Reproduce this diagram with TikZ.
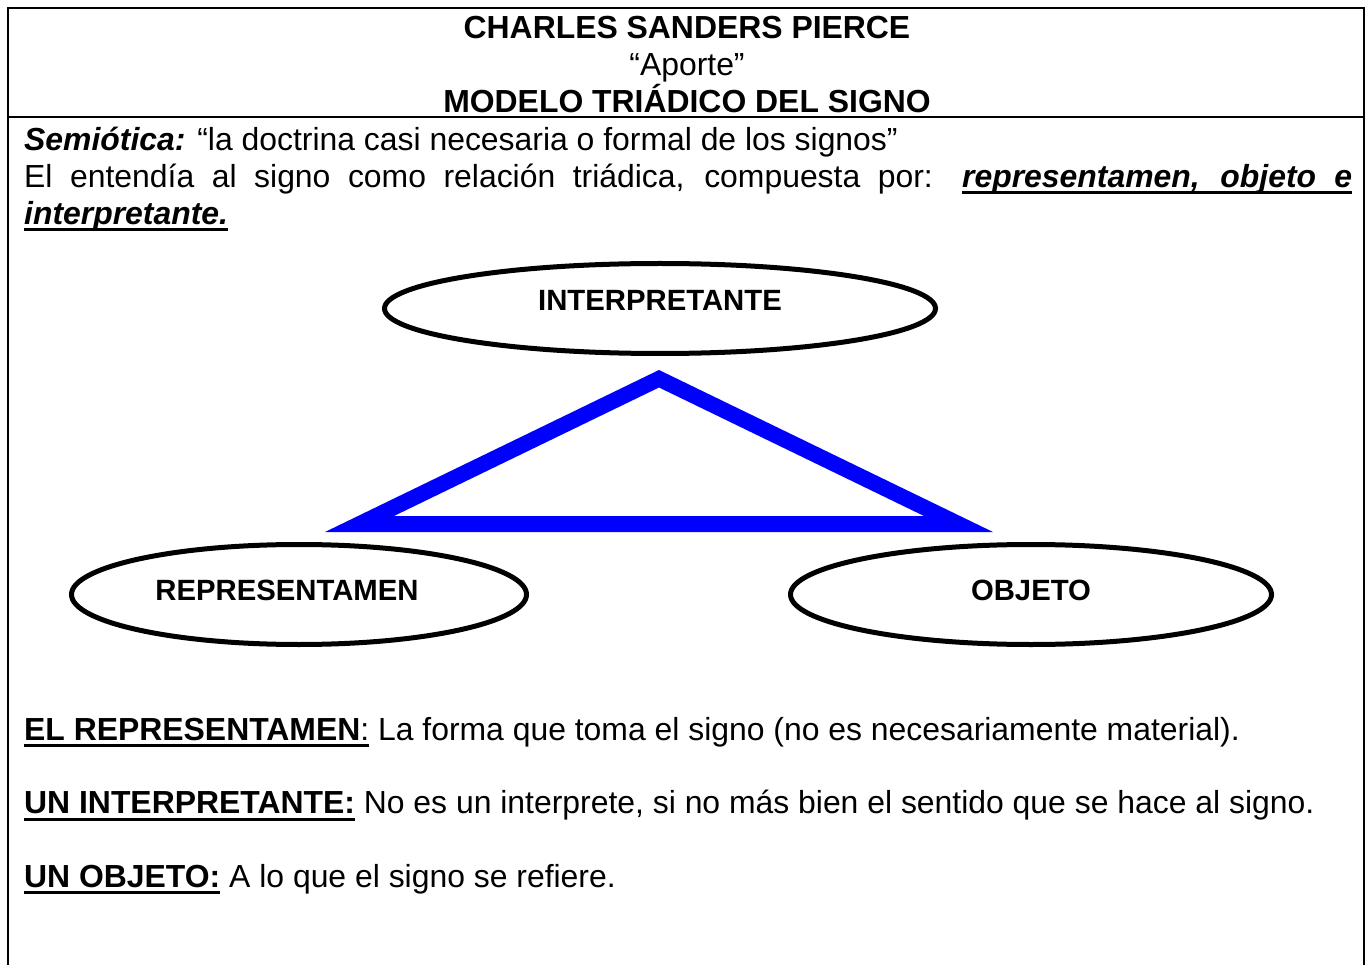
\documentclass[tikz,border=0pt]{standalone}
\usepackage{fontspec}
\setmainfont{Liberation Sans}
\usetikzlibrary{shapes.geometric}
\newsavebox\ulbox
\newcommand\myul[1]{\sbox\ulbox{#1}\leavevmode\rlap{\rule[-7pt]{\wd\ulbox}{3pt}}\usebox\ulbox}
\begin{document}
\begin{tikzpicture}[x=1pt,y=1pt,
  body/.style={inner sep=0, anchor=base west, font=\fontsize{31.9}{36.8}\selectfont},
  head/.style={inner sep=0, anchor=base, font=\fontsize{31.9}{36.8}\selectfont},
  headb/.style={head, font=\fontsize{31.9}{36.8}\selectfont\bfseries},
  oval/.style={ellipse, draw, line width=5pt, inner sep=0, font=\fontsize{29.3}{33}\selectfont\bfseries, text height=21pt},
  frame/.style={line width=2pt}]
\useasboundingbox (0,0) rectangle (1371,-965);
% frame
\draw[frame] (8,-965) -- (8,-8) -- (1364,-8) -- (1364,-965);
\draw[frame] (8,-117) -- (1364,-117);
% header
\node[headb] (t1) at (687,-38.5) {CHARLES SANDERS PIERCE};
\node[head] (t2) at (687,-75.3) {“Aporte”};
\node[headb] (t3) at (687,-112.1) {MODELO TRIÁDICO DEL SIGNO};
% intro
\node[body] (s1) at (24,-150.5) {{\bfseries\itshape Semiótica:} “la doctrina casi necesaria o formal de los signos”};
\node[body] (s2) at (24,-187.3) {\makebox[1328pt][s]{El entendía al signo como relación triádica, compuesta por: \myul{\makebox[390pt][s]{\bfseries\itshape representamen, objeto e}}}};
\node[body] (s3) at (24,-224.1) {\myul{\bfseries\itshape interpretante.}};
% triangle
\fill[blue, even odd rule] (325,-532) -- (659,-370) -- (993,-532) -- cycle
  (394,-516) -- (659,-387.5) -- (924,-516) -- cycle;
% ellipses
\node[oval, minimum width=551pt, minimum height=90pt, text depth=17pt] (interp) at (660,-308.5) {INTERPRETANTE};
\node[oval, minimum width=455pt, minimum height=100pt, text depth=9pt] (rep) at (299,-594.5) {REPRESENTAMEN\rule{24pt}{0pt}};
\node[oval, minimum width=481pt, minimum height=100pt, text depth=9pt] (obj) at (1031,-594.5) {OBJETO};
% definitions
\node[body] (d1) at (24,-740) {\myul{\textbf{EL REPRESENTAMEN}:} La forma que toma el signo (no es necesariamente material).};
\node[body] (d2) at (24,-813.6) {\myul{\textbf{UN INTERPRETANTE:}} No es un interprete, si no más bien el sentido que se hace al signo.};
\node[body] (d3) at (24,-887.2) {\myul{\textbf{UN OBJETO:}} A lo que el signo se refiere.};
\end{tikzpicture}
\end{document}
